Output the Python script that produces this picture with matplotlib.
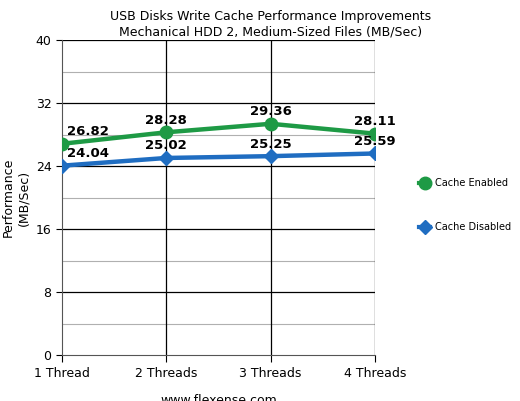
import matplotlib.pyplot as plt
from matplotlib.lines import Line2D

categories = ["1 Thread", "2 Threads", "3 Threads", "4 Threads"]
cache_enabled = [26.82, 28.28, 29.36, 28.11]
cache_disabled = [24.04, 25.02, 25.25, 25.59]

GREEN = "#1e9a45"
BLUE = "#1f6dc1"

fig = plt.figure(figsize=(5.2, 4.01), dpi=100)
ax = fig.add_axes([62 / 520, 1 - 355 / 401, (375 - 62) / 520, (355 - 40) / 401])

x = list(range(len(categories)))
ax.set_xlim(0, len(categories) - 1)
ax.set_ylim(0, 40)

for y in range(4, 40, 8):
    ax.axhline(y, color="#b0b0b0", linewidth=0.8, zorder=1)
for y in range(8, 41, 8):
    ax.axhline(y, color="black", linewidth=0.9, zorder=1)
for xi in x[1:]:
    ax.axvline(xi, color="black", linewidth=0.9, zorder=1)

ax.plot(x, cache_enabled, color=GREEN, linewidth=3.2, marker="o", markersize=9, zorder=3)
ax.plot(x, cache_disabled, color=BLUE, linewidth=3.2, marker="D", markersize=7, zorder=3)

for series in (cache_enabled, cache_disabled):
    for xi, v in zip(x, series):
        ax.text(xi + (0.05 if xi == 0 else 0), v + 0.7, f"{v:.2f}",
                ha="left" if xi == 0 else "center", va="bottom",
                fontsize=9.5, fontweight="bold", zorder=4)

ax.set_xticks(x)
ax.set_xticklabels(categories, fontsize=9)
ax.set_yticks(range(0, 41, 8))
ax.tick_params(axis="y", labelsize=9, length=4)
ax.tick_params(axis="x", length=5)
for side in ["top", "right"]:
    ax.spines[side].set_visible(False)
ax.spines["left"].set_color("#555555")
ax.spines["bottom"].set_color("#555555")

ax.set_ylabel("Performance\n(MB/Sec)", fontsize=9, labelpad=4)
ax.set_xlabel("www.flexense.com", fontsize=9, labelpad=10)
fig.text(0.52, 0.975, "USB Disks Write Cache Performance Improvements\nMechanical HDD 2, Medium-Sized Files (MB/Sec)",
         ha="center", va="top", fontsize=9)

handles = [
    Line2D([], [], color=GREEN, linewidth=3, marker="o", markersize=9),
    Line2D([], [], color=BLUE, linewidth=3, marker="D", markersize=7),
]
fig.legend(handles, ["Cache Enabled", "Cache Disabled"], loc="center left",
           bbox_to_anchor=(410 / 520, 1 - 205 / 401), frameon=False, fontsize=7,
           handlelength=1.2, labelspacing=3.5, handletextpad=0.5)

fig.savefig("out.png", dpi=100)
